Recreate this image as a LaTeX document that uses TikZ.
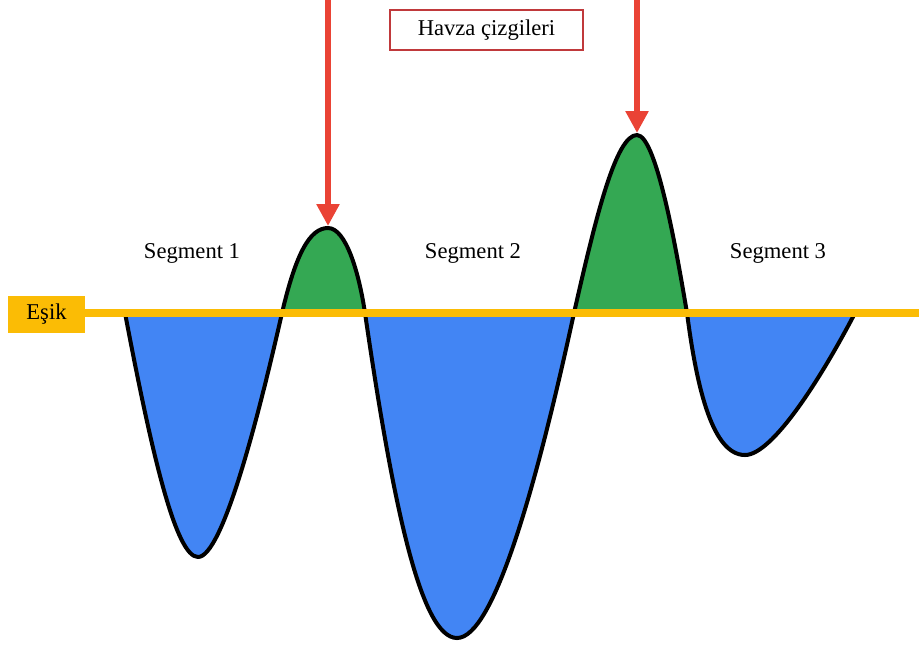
\documentclass[tikz,border=0pt]{standalone}
\usepackage{fontspec}
\setmainfont{Liberation Serif}
\usepackage{tikz}
\usetikzlibrary{arrows.meta}

\definecolor{lobeblue}{HTML}{4285F4}
\definecolor{peakgreen}{HTML}{34A853}
\definecolor{esikyellow}{HTML}{FBBC05}
\definecolor{shedred}{HTML}{EA4335}
\definecolor{boxred}{HTML}{C0393B}

% the signal, in pixel units
\newcommand{\wavecurve}{(125,313)
  .. controls (152,455) and (176,557) .. (198,557)
  .. controls (222,557) and (257,423) .. (282,313)
  .. controls (296,253) and (310,228) .. (328,228)
  .. controls (346,228) and (359,273) .. (365,313)
  .. controls (393,505) and (421,638) .. (457,638)
  .. controls (494,638) and (537,483) .. (574,313)
  .. controls (596,216) and (616,135) .. (637,135)
  .. controls (657,135) and (678,260) .. (687,313)
  .. controls (697,390) and (713,455) .. (745,455)
  .. controls (772,455) and (820,380) .. (855,313)}

\begin{document}
\begin{tikzpicture}[
    x=0.5pt, y=-0.5pt,
    font=\fontsize{11.3}{13}\selectfont,
    wave/.style={draw=black, line width=2pt, line join=round},
    threshold/.style={draw=esikyellow, line width=4pt},
    esikbox/.style={rectangle, fill=esikyellow, minimum width=38.5pt, minimum height=18.5pt, inner sep=0pt},
    shedbox/.style={rectangle, draw=boxred, line width=1pt, fill=white, minimum width=96.5pt, minimum height=20pt, inner sep=0pt},
    shedarrow/.style={draw=shedred, line width=3pt, -{Triangle[width=11pt, length=11pt]}, shedred},
    seglabel/.style={inner sep=0pt}
  ]
    \useasboundingbox (0,0) rectangle (919,644);

    % Fill - green above the threshold, blue below
    \begin{scope}
      \clip (0,0) rectangle (919,313);
      \fill[peakgreen] \wavecurve -- cycle;
    \end{scope}
    \begin{scope}
      \clip (0,313) rectangle (919,644);
      \fill[lobeblue] \wavecurve -- cycle;
    \end{scope}

    % Curve outline
    \draw[wave] \wavecurve;

    % Threshold
    \node[esikbox] (esik) at (46.5,314.5) {Eşik};
    \coordinate (esikend) at (919,313);
    \draw[threshold] (esik.east |- esikend) -- (esikend);

    % Watershed lines
    \node[shedbox] (havza) at (486.5,30) {Havza çizgileri};
    \coordinate (top1) at (328,0);
    \coordinate (peak1) at (328,226);
    \coordinate (top2) at (637,0);
    \coordinate (peak2) at (637,133);
    \draw[shedarrow] (top1) -- (peak1);
    \draw[shedarrow] (top2) -- (peak2);

    % Segments
    \node[seglabel] (seg1) at (192,253) {Segment 1};
    \node[seglabel] (seg2) at (473,253) {Segment 2};
    \node[seglabel] (seg3) at (778,253) {Segment 3};

  \end{tikzpicture}
\end{document}
